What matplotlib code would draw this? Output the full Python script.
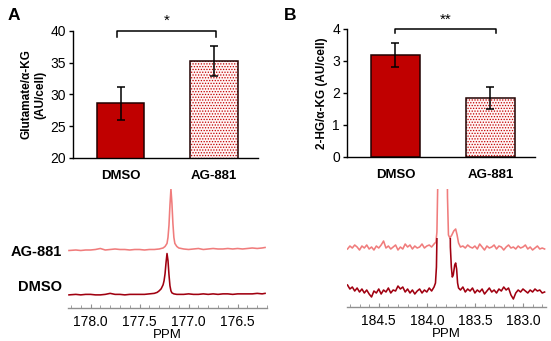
import numpy as np
import matplotlib
matplotlib.use("Agg")
import matplotlib.pyplot as plt
from matplotlib.patches import Rectangle

plt.rcParams['font.family'] = ['Liberation Sans', 'DejaVu Sans']
plt.rcParams['hatch.linewidth'] = 0.6

# bar data
groups = ["DMSO", "AG-881"]
glu_mean = [28.65, 35.3]
glu_err = [2.6, 2.4]
hg_mean = [3.19, 1.84]
hg_err = [0.37, 0.34]

# 13C spectra, glutamate C5 region (intensity above baseline of the axis, arbitrary units)
glu_ppm_ag = [178.22, 178.15, 178.10, 178.05, 178.00, 177.95, 177.90, 177.85, 177.80, 177.75,
              177.70, 177.65, 177.60, 177.55, 177.50, 177.45, 177.40, 177.35, 177.30, 177.26,
              177.24, 177.22, 177.21, 177.20, 177.19, 177.18, 177.17, 177.16, 177.15, 177.14,
              177.12, 177.10, 177.05, 177.00, 176.95, 176.90, 176.85, 176.80, 176.75, 176.70,
              176.65, 176.60, 176.55, 176.50, 176.45, 176.40, 176.35, 176.30, 176.25, 176.22]
glu_int_ag = [57, 57.5, 57, 57.5, 57.5, 58, 59, 57.5, 58, 58.5,
              58, 58, 57.5, 58, 58, 57.5, 58, 58, 58.5, 59.5,
              61, 64, 70, 82, 102, 118, 104, 84, 70, 64,
              61, 59.5, 58.5, 58, 58.5, 59, 58, 58.5, 59, 58.5,
              58.5, 59, 58.5, 59, 58.5, 59, 59.5, 59, 59.5, 60]
glu_ppm_dmso = [178.22, 178.15, 178.10, 178.05, 178.00, 177.95, 177.90, 177.85, 177.80, 177.75,
                177.70, 177.65, 177.60, 177.55, 177.50, 177.45, 177.40, 177.35, 177.32, 177.30,
                177.28, 177.26, 177.25, 177.24, 177.23, 177.22, 177.21, 177.20, 177.19, 177.18,
                177.17, 177.15, 177.12, 177.05, 177.00, 176.95, 176.90, 176.85, 176.80, 176.75,
                176.70, 176.65, 176.60, 176.55, 176.50, 176.45, 176.40, 176.35, 176.30, 176.25,
                176.22]
glu_int_dmso = [13, 13.5, 13, 13.5, 13.5, 13, 13, 13.5, 14.5, 13.5,
                13.5, 13, 13.5, 13.5, 13.5, 13.5, 14, 14.5, 15.5, 17,
                19, 23, 27, 34, 45, 54, 47, 33, 22, 17,
                15, 14, 13.5, 13.5, 14, 13.5, 13.5, 14, 13.5, 14,
                13.5, 14, 14, 13.5, 14, 14, 14, 14, 14.5, 14,
                14.5]

# 13C spectra, 2-HG C1 region
hg_ppm_ag = [184.825, 184.80, 184.775, 184.75, 184.725, 184.70, 184.675, 184.65, 184.625, 184.60,
             184.575, 184.55, 184.525, 184.50, 184.475, 184.45, 184.425, 184.40, 184.375, 184.35,
             184.325, 184.30, 184.275, 184.25, 184.225, 184.20, 184.175, 184.15, 184.125, 184.10,
             184.075, 184.05, 184.025, 184.00, 183.975, 183.95, 183.925, 183.905, 183.895, 183.885,
             183.87, 183.80, 183.785, 183.775, 183.76, 183.74, 183.72, 183.70, 183.685, 183.67,
             183.65, 183.625, 183.60, 183.575, 183.55, 183.525, 183.50, 183.475, 183.45, 183.425,
             183.40, 183.375, 183.35, 183.325, 183.30, 183.275, 183.25, 183.225, 183.20, 183.175,
             183.15, 183.125, 183.10, 183.075, 183.05, 183.025, 183.00, 182.975, 182.95, 182.925,
             182.90, 182.875, 182.85, 182.825, 182.80, 182.775]
hg_int_ag = [58, 61, 59, 62, 60, 57, 61, 59, 62, 58,
             60, 57, 61, 59, 62, 66, 59, 61, 58, 60,
             62, 57, 60, 58, 63, 60, 62, 58, 61, 59,
             60, 63, 59, 61, 62, 60, 63, 65, 75, 130,
             300, 300, 110, 72, 69, 72, 76, 78, 72, 64,
             60, 61, 59, 62, 60, 59, 61, 58, 63, 60,
             57, 61, 59, 60, 62, 58, 61, 60, 57, 60,
             62, 59, 60, 58, 61, 59, 60, 62, 58, 60,
             57, 59, 61, 58, 59, 58]
hg_ppm_dmso = [184.825, 184.80, 184.775, 184.75, 184.725, 184.70, 184.675, 184.65, 184.625, 184.60,
               184.575, 184.55, 184.525, 184.50, 184.475, 184.45, 184.425, 184.40, 184.375, 184.35,
               184.325, 184.30, 184.275, 184.25, 184.225, 184.20, 184.175, 184.15, 184.125, 184.10,
               184.075, 184.05, 184.025, 184.00, 183.975, 183.95, 183.925, 183.91, 183.90, 183.895,
               183.885, 183.77, 183.755, 183.745, 183.735, 183.725, 183.71, 183.70, 183.69, 183.68,
               183.67, 183.65, 183.625, 183.60, 183.575, 183.55, 183.525, 183.50, 183.475, 183.45,
               183.425, 183.40, 183.375, 183.35, 183.325, 183.30, 183.275, 183.25, 183.225, 183.20,
               183.175, 183.15, 183.125, 183.10, 183.075, 183.05, 183.025, 183.00, 182.975, 182.95,
               182.925, 182.90, 182.875, 182.85, 182.825, 182.80, 182.775]
hg_int_dmso = [22, 18, 20, 16, 19, 15, 18, 14, 17, 13,
               10, 16, 14, 18, 13, 17, 15, 19, 14, 17,
               16, 21, 18, 20, 15, 18, 14, 17, 13, 16,
               18, 14, 17, 15, 19, 16, 20, 24, 40, 68,
               250, 250, 60, 40, 30, 32, 42, 44, 38, 24,
               19, 17, 20, 15, 18, 16, 19, 14, 17, 15,
               18, 13, 16, 19, 15, 17, 14, 18, 16, 20,
               17, 19, 12, 8, 14, 17, 15, 18, 16, 14,
               17, 15, 18, 16, 17, 14, 15]

RED = "#c00000"
LIGHT = "#f07c7c"
DARK = "#a00010"

fig = plt.figure(figsize=(5.51, 3.41), dpi=100)


def bar_panel(rect, means, errs, ylim, yticks, ylabel, br_x, br_drop, stars, letter, letter_x):
    ax = fig.add_axes(rect)
    x = np.arange(len(groups))
    ax.bar(x[0], means[0], 0.51, color=RED, edgecolor="#200000", linewidth=1.1, zorder=2)
    # dotted bar: hatch in red, then a black outline on top
    ax.bar(x[1], means[1], 0.51, color="#fff4f4", edgecolor=RED, hatch="......", linewidth=0, zorder=2)
    ax.bar(x[1], means[1], 0.51, color="none", edgecolor="#200000", linewidth=1.1, zorder=3)
    ax.errorbar(x, means, yerr=errs, fmt="none", ecolor="black", elinewidth=1.1, capsize=3,
                capthick=1.1, zorder=4)
    top = ylim[1]
    ax.plot([br_x[0], br_x[0], br_x[1], br_x[1]], [top - br_drop, top, top, top - br_drop],
            color="black", lw=1.1, clip_on=False)
    ax.text(np.mean(br_x), top + br_drop * 0.6, stars, ha="center", va="bottom", fontsize=11,
            clip_on=False)
    ax.set_xlim(-0.51, 1.47)
    ax.set_ylim(*ylim)
    ax.set_yticks(yticks)
    ax.set_xticks(x)
    ax.set_xticklabels(groups, fontsize=9.5, fontweight="bold")
    ax.tick_params(axis="x", length=0, pad=9)
    ax.tick_params(axis="y", length=3, width=1, labelsize=10, pad=2)
    for s in ["top", "right"]:
        ax.spines[s].set_visible(False)
    ax.spines["left"].set_linewidth(1)
    ax.spines["bottom"].set_linewidth(1)
    ax.set_ylabel(ylabel, fontsize=8.5, fontweight="bold", labelpad=3)
    fig.text(letter_x, 0.955, letter, fontsize=12.5, fontweight="bold", ha="left", va="center")
    return ax


bar_panel([0.1325, 0.5367, 0.3358, 0.3724], glu_mean, glu_err, (20, 40), [20, 25, 30, 35, 40],
          "Glutamate/\u03b1-KG\n(AU/cell)", (-0.04, 1.02), 0.95, "*", "A", 0.013)
bar_panel([0.6298, 0.5396, 0.3412, 0.3754], hg_mean, hg_err, (0, 4), [0, 1, 2, 3, 4],
          "2-HG/\u03b1-KG (AU/cell)", (0.0, 1.06), 0.13, "**", "B", 0.515)


def spec_panel(rect, xlim, ticks, traces):
    ax = fig.add_axes(rect)
    for ppm, inten, col, cap in traces:
        line, = ax.plot(ppm, inten, color=col, lw=1.15)
        if cap is not None:
            clip = Rectangle((xlim[1], -20), xlim[0] - xlim[1], cap + 20, transform=ax.transData)
            line.set_clip_path(clip)
    ax.set_xlim(*xlim)
    ax.set_ylim(0, 118)
    ax.set_xticks(ticks)
    ax.set_xticklabels(["%.1f" % t for t in ticks])
    ax.set_xticks(np.arange(round(xlim[1], 1), xlim[0], 0.1), minor=True)
    ax.set_yticks([])
    for s in ["top", "right", "left"]:
        ax.spines[s].set_visible(False)
    ax.spines["bottom"].set_color("#909090")
    ax.spines["bottom"].set_linewidth(1)
    ax.tick_params(axis="x", which="major", direction="in", length=3, color="#909090",
                   labelsize=10, pad=5)
    ax.tick_params(axis="x", which="minor", direction="in", length=2, color="#909090")
    ax.set_xlabel("PPM", fontsize=9.5, labelpad=0)
    ax.patch.set_visible(False)
    return ax


spec_panel([0.1234, 0.0968, 0.3612, 0.349], (178.23, 176.21), [178.0, 177.5, 177.0, 176.5],
           [(glu_ppm_ag, glu_int_ag, LIGHT, None), (glu_ppm_dmso, glu_int_dmso, DARK, None)])
spec_panel([0.6298, 0.0997, 0.3612, 0.346], (184.83, 182.76), [184.5, 184.0, 183.5, 183.0],
           [(hg_ppm_ag, hg_int_ag, LIGHT, None), (hg_ppm_dmso, hg_int_dmso, DARK, 69)])

fig.text(62 / 551, 1 - 252 / 341, "AG-881", fontsize=10.5, fontweight="bold", ha="right", va="center")
fig.text(62 / 551, 1 - 287 / 341, "DMSO", fontsize=10.5, fontweight="bold", ha="right", va="center")

fig.savefig("out.png", dpi=100)
